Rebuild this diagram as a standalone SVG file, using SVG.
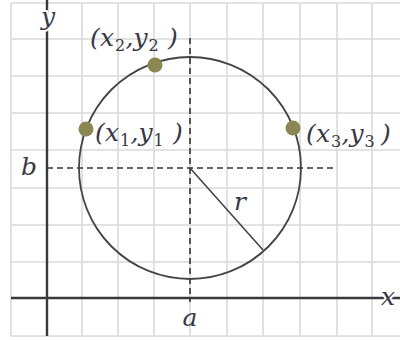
<svg xmlns="http://www.w3.org/2000/svg" width="400" height="340" viewBox="0 0 400 340">
<style>
.grid{stroke:#dadada;stroke-width:1.6;fill:none}
.axis{stroke:#3a3a3a;stroke-width:2.4;fill:none}
.dash{stroke:#333;stroke-width:1.6;stroke-dasharray:6 4;fill:none}
.circ{stroke:#444;stroke-width:1.8;fill:none}
.pt{fill:#8b8752}
.lbl{font-family:"DejaVu Serif","Liberation Serif",serif;font-style:italic;font-size:25px;fill:#383844}
.sub{font-size:16px;font-style:normal}
.halo{paint-order:stroke;stroke:#fff;stroke-width:4px}
</style>
<rect x="0" y="0" width="400" height="340" fill="#fff"/>
<g id="grid" class="grid">
<path d="M11 3V336M47 3V336M82 3V336M118 3V336M154 3V336M190 3V336M227 3V336M263 3V336M300 3V336M337 3V336M372 3V336"/>
<path d="M11 3H400M11 39H400M11 76H400M11 113H400M11 150H400M11 188H400M11 225H400M11 262H400M11 298H400M11 336H400"/>
</g>
<g id="axes">
<line class="axis" x1="47" y1="0" x2="47" y2="336"/>
<line class="axis" x1="11" y1="298" x2="400" y2="298"/>
</g>
<g id="connectors">
<line class="dash" x1="190" y1="38" x2="190" y2="302"/>
<line class="dash" x1="47" y1="168" x2="333" y2="168"/>
<line stroke="#444" stroke-width="1.6" x1="190" y1="168" x2="263" y2="250"/>
</g>
<g id="circle">
<circle class="circ" cx="190" cy="168" r="111"/>
</g>
<g id="p1"><circle class="pt" cx="86" cy="129" r="7.5"/>
<text class="lbl" y="141"><tspan x="95">(</tspan><tspan x="105">x</tspan><tspan class="sub" x="120" dy="5">1</tspan><tspan x="130.5" dy="-5">,</tspan><tspan x="138.5">y</tspan><tspan class="sub" x="153.5" dy="5">1</tspan><tspan x="173" dy="-5">)</tspan></text></g>
<g id="p2"><circle class="pt" cx="155" cy="65" r="7.5"/>
<text class="lbl" y="46"><tspan x="90">(</tspan><tspan x="100">x</tspan><tspan class="sub" x="115" dy="5">2</tspan><tspan x="125.5" dy="-5">,</tspan><tspan x="133.5">y</tspan><tspan class="sub" x="148.5" dy="5">2</tspan><tspan x="168" dy="-5">)</tspan></text></g>
<g id="p3"><circle class="pt" cx="293" cy="128" r="7.5"/>
<text class="lbl" y="142"><tspan x="306">(</tspan><tspan x="316">x</tspan><tspan class="sub" x="331" dy="5">3</tspan><tspan x="341.5" dy="-5">,</tspan><tspan x="349.5">y</tspan><tspan class="sub" x="364.5" dy="5">3</tspan><tspan x="381" dy="-5">)</tspan></text></g>
<g id="labels">
<text class="lbl halo" x="48" y="25" text-anchor="middle">y</text>
<text class="lbl" x="29" y="175" text-anchor="middle">b</text>
<text class="lbl" x="190" y="326" text-anchor="middle">a</text>
<text class="lbl" x="240" y="210" text-anchor="middle">r</text>
<text class="lbl halo" x="388" y="305" text-anchor="middle">x</text>
</g>
</svg>
